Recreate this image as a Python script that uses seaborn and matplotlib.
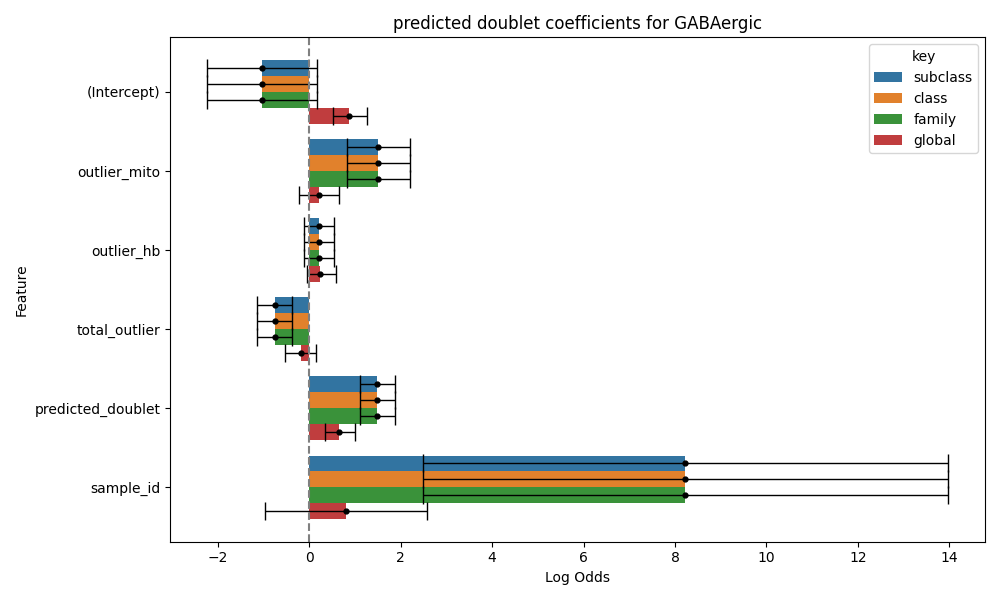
import matplotlib
matplotlib.use('Agg')
import matplotlib.pyplot as plt
import numpy as np
import pandas as pd
import seaborn as sns

features = ['(Intercept)', 'outlier_mito', 'outlier_hb', 'total_outlier', 'predicted_doublet', 'sample_id']
keys = ['subclass', 'class', 'family', 'global']

# coefficient (log odds) per key, in feature order
coef = {
    'subclass': [-1.03, 1.51, 0.22, -0.76, 1.49, 8.22],
    'class':    [-1.03, 1.51, 0.22, -0.76, 1.49, 8.22],
    'family':   [-1.03, 1.51, 0.22, -0.76, 1.49, 8.22],
    'global':   [0.88, 0.21, 0.24, -0.19, 0.66, 0.80],
}
ci_low = {
    'subclass': [-2.23, 0.82, -0.12, -1.15, 1.11, 2.49],
    'class':    [-2.23, 0.82, -0.12, -1.15, 1.11, 2.49],
    'family':   [-2.23, 0.82, -0.12, -1.15, 1.11, 2.49],
    'global':   [0.51, -0.23, -0.05, -0.53, 0.34, -0.97],
}
ci_high = {
    'subclass': [0.18, 2.21, 0.55, -0.37, 1.87, 13.97],
    'class':    [0.18, 2.21, 0.55, -0.37, 1.87, 13.97],
    'family':   [0.18, 2.21, 0.55, -0.37, 1.87, 13.97],
    'global':   [1.26, 0.66, 0.58, 0.15, 1.00, 2.57],
}

rows = []
for k in keys:
    for i, f in enumerate(features):
        rows.append({'Feature': f, 'key': k, 'coef': coef[k][i],
                     'low': ci_low[k][i], 'high': ci_high[k][i]})
df = pd.DataFrame(rows)

fig, ax = plt.subplots(figsize=(10, 6), dpi=100)
sns.barplot(data=df, y='Feature', x='coef', hue='key', order=features,
            hue_order=keys, orient='h', errorbar=None, ax=ax)

# error bars at the centre of each dodged bar
for k, container in zip(keys, ax.containers):
    sub = df[df['key'] == k].set_index('Feature').loc[features]
    ys = [p.get_y() + p.get_height() / 2 for p in container.patches]
    xerr = [sub['coef'] - sub['low'], sub['high'] - sub['coef']]
    ax.errorbar(sub['coef'], ys, xerr=xerr, fmt='o', color='black',
                markersize=3.5, capsize=6.5, elinewidth=1, capthick=1)

ax.axvline(0, color='gray', linestyle='--')
ax.set_xlabel('Log Odds')
ax.set_ylabel('Feature')
ax.set_title('predicted doublet coefficients for GABAergic')
ax.legend(title='key', loc='upper right')
plt.tight_layout()
plt.savefig('out.png')
